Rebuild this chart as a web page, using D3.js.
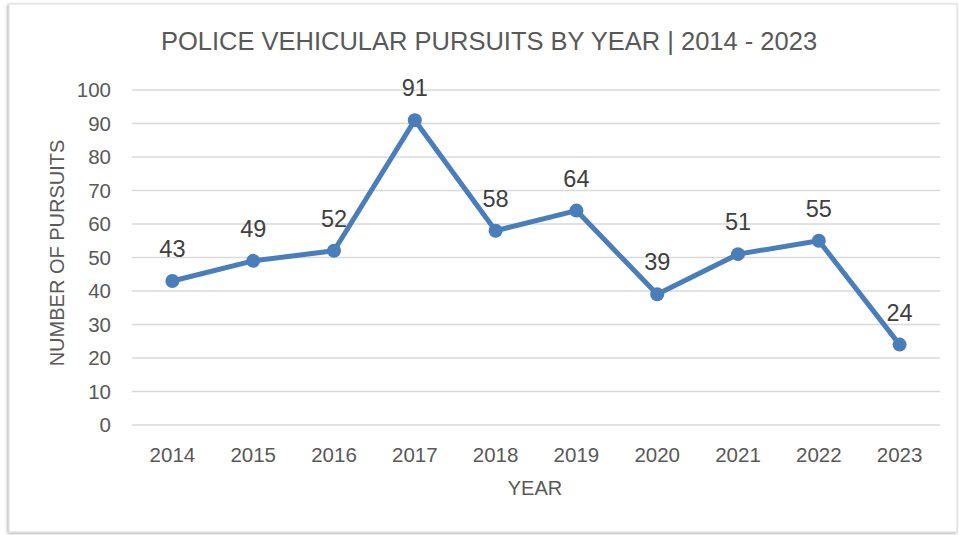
<!DOCTYPE html>
<html>
<head>
<meta charset="utf-8">
<script src="https://cdn.jsdelivr.net/npm/d3@7"></script>
<style>
  body { margin: 0; background: #fff; }
  text { font-family: "Liberation Sans", Arial, sans-serif; }
</style>
</head>
<body>
<div id="displaybox"></div>
<script>
const years = ["2014", "2015", "2016", "2017", "2018", "2019", "2020", "2021", "2022", "2023"];
const pursuits = [43, 49, 52, 91, 58, 64, 39, 51, 55, 24];
const yTicks = [0, 10, 20, 30, 40, 50, 60, 70, 80, 90, 100];

let width = 959, height = 535;
let margin = {top: 90, right: 19, bottom: 110, left: 132};

let svg = d3.select("#displaybox")
    .append("svg")
        .attr("width", width)
        .attr("height", height);

// chart frame with soft shadow
let defs = svg.append("defs");
let f = defs.append("filter").attr("id", "shadow").attr("x", "-5%").attr("y", "-5%").attr("width", "110%").attr("height", "110%");
f.append("feDropShadow").attr("dx", -1).attr("dy", 1).attr("stdDeviation", 1.5).attr("flood-color", "#000").attr("flood-opacity", 0.35);

svg.append("rect")
    .attr("x", 9).attr("y", 4)
    .attr("width", 948).attr("height", 528)
    .attr("fill", "#fff")
    .attr("stroke", "#d9d9d9")
    .attr("stroke-width", 1)
    .attr("filter", "url(#shadow)");

let x = d3.scaleBand()
    .domain(years)
    .range([margin.left, width - margin.right]);

let y = d3.scaleLinear()
    .domain([0, 100])
    .range([425, 90]);

// gridlines
svg.append("g").selectAll("line").data(yTicks)
    .enter().append("line")
        .attr("x1", margin.left).attr("x2", width - margin.right)
        .attr("y1", d => y(d)).attr("y2", d => y(d))
        .attr("stroke", "#d9d9d9")
        .attr("stroke-width", 1.3);

// y axis labels
svg.append("g").selectAll("text").data(yTicks)
    .enter().append("text")
        .attr("x", 111)
        .attr("y", d => y(d))
        .attr("dy", "0.36em")
        .attr("text-anchor", "end")
        .attr("font-size", 20.5)
        .attr("fill", "#595959")
        .text(d => d);

// x axis labels
svg.append("g").selectAll("text").data(years)
    .enter().append("text")
        .attr("x", d => x(d) + x.bandwidth() / 2)
        .attr("y", 462)
        .attr("text-anchor", "middle")
        .attr("font-size", 20.5)
        .attr("fill", "#595959")
        .text(d => d);

// titles
svg.append("text")
    .attr("x", 489).attr("y", 50)
    .attr("text-anchor", "middle")
    .attr("font-size", 25.5)
    .attr("fill", "#595959")
    .text("POLICE VEHICULAR PURSUITS BY YEAR | 2014 - 2023");

svg.append("text")
    .attr("x", 535).attr("y", 495)
    .attr("text-anchor", "middle")
    .attr("font-size", 20)
    .attr("fill", "#595959")
    .text("YEAR");

svg.append("text")
    .attr("transform", "translate(64, 253) rotate(-90)")
    .attr("text-anchor", "middle")
    .attr("font-size", 20)
    .attr("fill", "#595959")
    .text("NUMBER OF PURSUITS");

let data = years.map((yr, i) => ({year: yr, value: pursuits[i]}));

let line = d3.line()
    .x(d => x(d.year) + x.bandwidth() / 2)
    .y(d => y(d.value));

svg.append("path")
    .datum(data)
    .attr("d", line)
    .attr("fill", "none")
    .attr("stroke", "#4a7ebb")
    .attr("stroke-width", 5)
    .attr("stroke-linejoin", "round");

svg.append("g").selectAll("circle").data(data)
    .enter().append("circle")
        .attr("cx", d => x(d.year) + x.bandwidth() / 2)
        .attr("cy", d => y(d.value))
        .attr("r", 7)
        .attr("fill", "#4a7ebb");

// data labels
svg.append("g").selectAll("text").data(data)
    .enter().append("text")
        .attr("x", d => x(d.year) + x.bandwidth() / 2)
        .attr("y", d => y(d.value) - 24)
        .attr("text-anchor", "middle")
        .attr("font-size", 23.5)
        .attr("fill", "#404040")
        .text(d => d.value);
</script>
</body>
</html>
